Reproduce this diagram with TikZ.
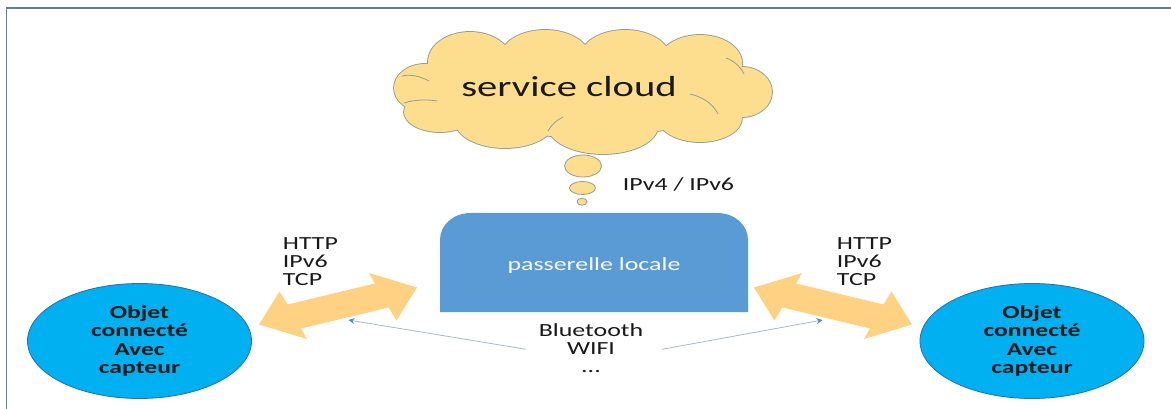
\documentclass[tikz,border=0pt]{standalone}
\usepackage{fontspec}
\setmainfont{Carlito}
\newfontfamily\widefont[FakeStretch=1.4]{Carlito}
\usetikzlibrary{shapes.geometric,arrows.meta}

\definecolor{frameblue}{RGB}{96,125,155}
\definecolor{cloudfill}{RGB}{252,222,142}
\definecolor{clouddraw}{RGB}{150,155,150}
\definecolor{arrowfill}{RGB}{254,210,130}
\definecolor{gatefill}{RGB}{91,155,213}
\definecolor{objfill}{RGB}{0,176,240}
\definecolor{objdraw}{RGB}{40,110,170}
\definecolor{linkgray}{RGB}{170,184,204}
\definecolor{linkhead}{RGB}{91,140,200}
\definecolor{ink}{RGB}{25,25,25}

% puffs of the cloud: centre, x radius, y radius
\newcommand{\cloudpuffs}[1]{%
  \path[#1] (425,88) ellipse [x radius=31, y radius=24];
  \path[#1] (470,62) ellipse [x radius=42, y radius=30];
  \path[#1] (545,58) ellipse [x radius=45, y radius=28];
  \path[#1] (625,58) ellipse [x radius=45, y radius=28];
  \path[#1] (700,63) ellipse [x radius=42, y radius=28];
  \path[#1] (742,92) ellipse [x radius=30, y radius=25];
  \path[#1] (700,118) ellipse [x radius=42, y radius=24];
  \path[#1] (603,126) ellipse [x radius=55, y radius=28];
  \path[#1] (505,121) ellipse [x radius=50, y radius=27];
  \path[#1] (440,112) ellipse [x radius=36, y radius=20];
  \path[#1] (583,92) ellipse [x radius=150, y radius=45];
}

\begin{document}
\begin{tikzpicture}[x=1pt,y=-1pt,
  lbl/.style={font=\widefont\fontsize{18.5}{18}\selectfont, inner sep=0, align=left, text=ink},
  objstyle/.style={ellipse, draw=objdraw, line width=0.8, fill=objfill, inner sep=0,
    minimum width=224, minimum height=115, align=center, text=ink,
    font=\widefont\bfseries\fontsize{18.3}{18.2}\selectfont},
  bubble/.style={ellipse, draw=clouddraw, line width=0.8, fill=cloudfill, inner sep=0},
  widearrow/.style={fill=arrowfill},
  fold/.style={draw=clouddraw, line width=0.8},
  link/.style={draw=linkgray, line width=0.8, -{Stealth[length=6, width=6, linkhead]}}
]
\useasboundingbox (0,0) rectangle (1171,409);
\fill[white] (0,0) rectangle (1171,409);

% frame lines
\draw[frameblue, line width=1.5] (6.5,409) -- (6.5,8) -- (1171,8);

% cloud: outline of the union of the puffs, then their filling on top
\cloudpuffs{draw=clouddraw, line width=1.8}
\cloudpuffs{fill=cloudfill}
% inner folds of the cloud
\draw[fold] (402,76) .. controls (410,74) and (420,76) .. (429,81);
\draw[fold] (404,103) .. controls (414,100) and (425,99) .. (437,101);
\draw[fold] (690,94) .. controls (703,97) and (713,104) .. (718,114);
\draw[fold] (726,58) .. controls (734,61) and (740,66) .. (744,74);
\draw[fold] (548,131) .. controls (552,124) and (557,120) .. (563,117);
\coordinate (cloud) at (583,92);
\node[anchor=base, inner sep=0, text=ink, font=\widefont\fontsize{29}{29}\selectfont]
      (cloudtxt) at (569,96.7) {service cloud};
\node[bubble, minimum width=37, minimum height=22] (b1) at (583,166) {};
\node[bubble, minimum width=26, minimum height=13] (b2) at (582.5,188) {};
\node[bubble, minimum width=10, minimum height=7] (b3) at (582,201.7) {};
\node[lbl, anchor=base] (ipnode) at (678.5,190) {IPv4 / IPv6};

% local gateway
\fill[gatefill] (440,312) -- (440,240) .. controls (440,225) and (453,213) .. (471,213)
   -- (717,213) .. controls (735,213) and (748,225) .. (748,240) -- (748,312) -- cycle;
\node[anchor=base, inner sep=0, text=white!96!gatefill,
      font=\widefont\fontsize{18.5}{18}\selectfont] (gate) at (594,270.7) {passerelle locale};

% connected objects
\node[objstyle] (objL) at (139.5,341) {Objet\\connecté\\Avec\\capteur};
\node[objstyle] (objR) at (1032,341) {Objet\\connecté\\Avec\\capteur};

% protocol labels (base anchor sits on the last line)
\node[lbl, anchor=base west] (protoL) at (282.7,285) {HTTP\\IPv6\\TCP};
\node[lbl, anchor=base west] (protoR) at (836.7,285) {HTTP\\IPv6\\TCP};

% double arrows
\fill[widearrow] (259,324.5) -- (279.5,291.5) -- (287.5,304.5) -- (375,283.5) -- (369,273)
   -- (417,287.5) -- (396.5,320.5) -- (388.5,307.5) -- (301,328.5) -- (307,339) -- cycle;
\fill[widearrow] (912,324.5) -- (891.5,291.5) -- (883.5,304.5) -- (796,283.5) -- (802,273)
   -- (754,287.5) -- (774.5,320.5) -- (782.5,307.5) -- (870,328.5) -- (864,339) -- cycle;

% radio links
\node[lbl, align=center, anchor=base] (radio) at (591,372.7) {Bluetooth\\WIFI\\...};
\coordinate (linkLs) at (526,349.3);
\coordinate (linkLe) at (348.5,320);
\coordinate (linkRs) at (662,349.3);
\coordinate (linkRe) at (822.5,320);
\draw[link] (linkLs) -- (linkLe);
\draw[link] (linkRs) -- (linkRe);
\end{tikzpicture}
\end{document}
